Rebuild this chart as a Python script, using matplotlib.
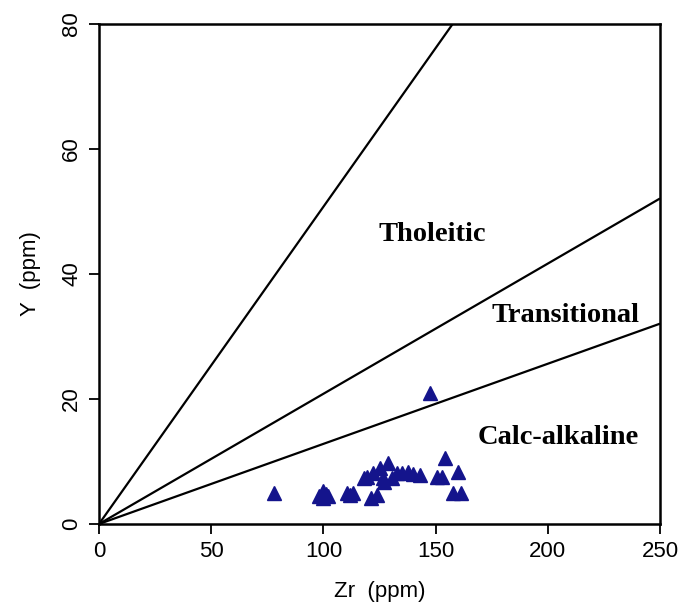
import matplotlib
matplotlib.use("Agg")
import matplotlib.pyplot as plt
import numpy as np

# Data (Zr, Y in ppm)
zr = [78, 98, 100, 102, 100, 101, 110.5, 113, 112,
      121, 124, 118, 119.5, 122, 125, 129, 126.6, 130.5, 132.6, 135, 137.5,
      140, 143, 150.5, 153, 154, 160, 157.7, 161.5, 147.4, 127]
y = [5, 4.5, 5.3, 4.5, 4.2, 4.8, 5, 5, 4.6,
     4.1, 4.6, 7.3, 7.5, 8.1, 8.9, 9.7, 7.3, 7.3, 8.1, 8.1, 8.3,
     8.0, 7.8, 7.5, 7.5, 10.5, 8.3, 4.9, 4.9, 21, 6.8]

# Boundary lines Zr/Y ratios
ratios = [1.97, 4.8, 7.8]

field_labels = ["Tholeitic", "Transitional", "Calc-alkaline"]
field_pos = [(148.4, 46.3), (208, 33.4), (204.5, 13.9)]

xticks = [0, 50, 100, 150, 200, 250]
yticks = [0, 20, 40, 60, 80]

plt.rcParams['font.family'] = ['Liberation Sans', 'DejaVu Sans']

fig = plt.figure(figsize=(6.95, 6.04), dpi=100)
ax = fig.add_axes([99/695, 1-524/604, (660-99)/695, (524-24)/604])

xs = np.array([0, 250.0])
for r in ratios:
    ax.plot(xs, xs / r, color='black', lw=1.6, solid_capstyle='butt')

ax.plot(zr, y, linestyle='none', marker='^', markersize=9.5,
        color='#14148c', markeredgecolor='#14148c')

for lab, (px, py) in zip(field_labels, field_pos):
    ax.text(px, py, lab, ha='center', va='center', fontsize=20.5,
            fontweight='bold', family=['Liberation Serif', 'DejaVu Serif'])

ax.set_xlim(0, 250)
ax.set_ylim(0, 80)
ax.set_xticks(xticks)
ax.set_yticks(yticks)
ax.tick_params(axis='both', direction='out', length=7, width=1.3,
               labelsize=16, colors='black', pad=5)
for lab in ax.get_yticklabels():
    lab.set_rotation(90)
    lab.set_va('center')
for s in ax.spines.values():
    s.set_linewidth(1.8)
    s.set_color('black')

ax.set_xlabel('Zr  (ppm)', fontsize=16, labelpad=14)
ax.set_ylabel('Y  (ppm)', fontsize=16, labelpad=15)

fig.savefig('out.png', dpi=100)
